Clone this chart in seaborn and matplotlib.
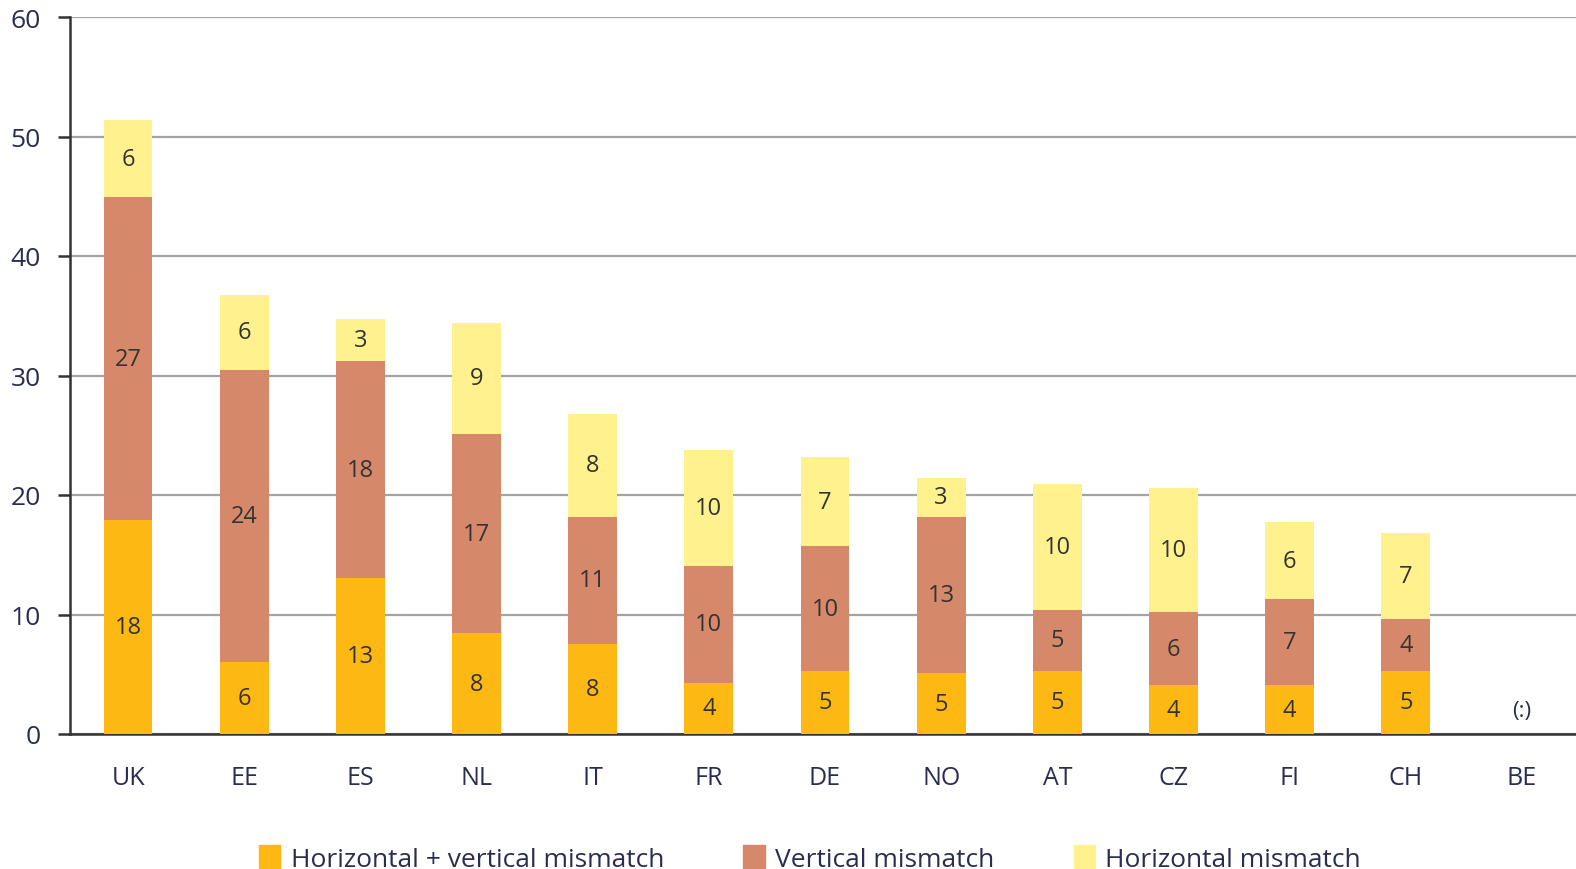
import numpy as np
import pandas as pd
import matplotlib.pyplot as plt
import seaborn as sns

plt.switch_backend('Agg')
sns.set_theme(style="white")
plt.rcParams['font.family'] = ['Liberation Sans Narrow', 'Open Sans', 'DejaVu Sans']

# Datos
countries = ["UK", "EE", "ES", "NL", "IT", "FR", "DE", "NO", "AT", "CZ", "FI", "CH", "BE"]
horiz_vert = [17.9, 6.0, 13.05, 8.45, 7.5, 4.3, 5.3, 5.1, 5.3, 4.1, 4.1, 5.3, np.nan]
vertical = [27.0, 24.5, 18.15, 16.65, 10.7, 9.8, 10.4, 13.1, 5.1, 6.1, 7.2, 4.3, np.nan]
horizontal = [6.5, 6.2, 3.5, 9.3, 8.6, 9.7, 7.5, 3.2, 10.5, 10.4, 6.4, 7.2, np.nan]
lbl_hv = ["18", "6", "13", "8", "8", "4", "5", "5", "5", "4", "4", "5", ""]
lbl_v = ["27", "24", "18", "17", "11", "10", "10", "13", "5", "6", "7", "4", ""]
lbl_h = ["6", "6", "3", "9", "8", "10", "7", "3", "10", "10", "6", "7", ""]
series_names = ["Horizontal + vertical mismatch", "Vertical mismatch", "Horizontal mismatch"]
colors = ["#FDB813", "#D5896A", "#FFF18E"]

df = pd.DataFrame({"country": countries, "hv": horiz_vert, "v": vertical, "h": horizontal})
df["c1"] = df["hv"]
df["c2"] = df["hv"] + df["v"]
df["c3"] = df["c2"] + df["h"]

fig = plt.figure(figsize=(15.76, 8.70), dpi=100)
ax = fig.add_axes([70 / 1576, 135 / 870, 1510 / 1576, 717 / 870])

# apilado: se dibuja el total y encima las sumas parciales
for col, color in zip(["c3", "c2", "c1"], colors[::-1]):
    sns.barplot(data=df, x="country", y=col, order=countries, color=color,
                width=0.42, saturation=1, ax=ax, zorder=3, linewidth=0)

txt_color = "#2a2d52"
for i in range(len(countries)):
    if np.isnan(df["c3"][i]):
        ax.text(i, 2, "(:)", ha="center", va="center", fontsize=16, color=txt_color)
        continue
    for lo, hi, lab in [(0, df["c1"][i], lbl_hv[i]), (df["c1"][i], df["c2"][i], lbl_v[i]),
                        (df["c2"][i], df["c3"][i], lbl_h[i])]:
        ax.text(i, (lo + hi) / 2, lab, ha="center", va="center", fontsize=17, color="#333333", zorder=5)

ax.set_xlim(-0.5, 12.5)
ax.set_ylim(0, 60)
ax.set_yticks(range(0, 61, 10))
ax.yaxis.grid(True, color="#a3a3a3", linewidth=1.6, zorder=0)
ax.set_axisbelow(True)
ax.set_xlabel("")
ax.set_ylabel("")
for s in ["top", "right"]:
    ax.spines[s].set_visible(False)
for s in ["left", "bottom"]:
    ax.spines[s].set_color("#333333")
    ax.spines[s].set_linewidth(1.8)

ax.set_xticks(np.arange(-0.5, 12.6, 1), minor=True)
ax.tick_params(axis="x", which="major", length=0, pad=22, labelsize=18, labelcolor=txt_color)
ax.tick_params(axis="x", which="minor", length=7, width=1.8, color="#333333", direction="out")
ax.tick_params(axis="y", length=9, width=1.8, color="#333333", direction="out", pad=12,
               labelsize=19, labelcolor=txt_color, left=True)

handles = [plt.Rectangle((0, 0), 1, 1, color=c) for c in colors]
fig.legend(handles, series_names, loc="center", bbox_to_anchor=(0.514, 0.012), ncol=3,
           frameon=False, fontsize=19, handlelength=0.8, handleheight=0.95,
           handletextpad=0.4, columnspacing=3.0, labelcolor=txt_color)

fig.savefig("out.png", dpi=100)
